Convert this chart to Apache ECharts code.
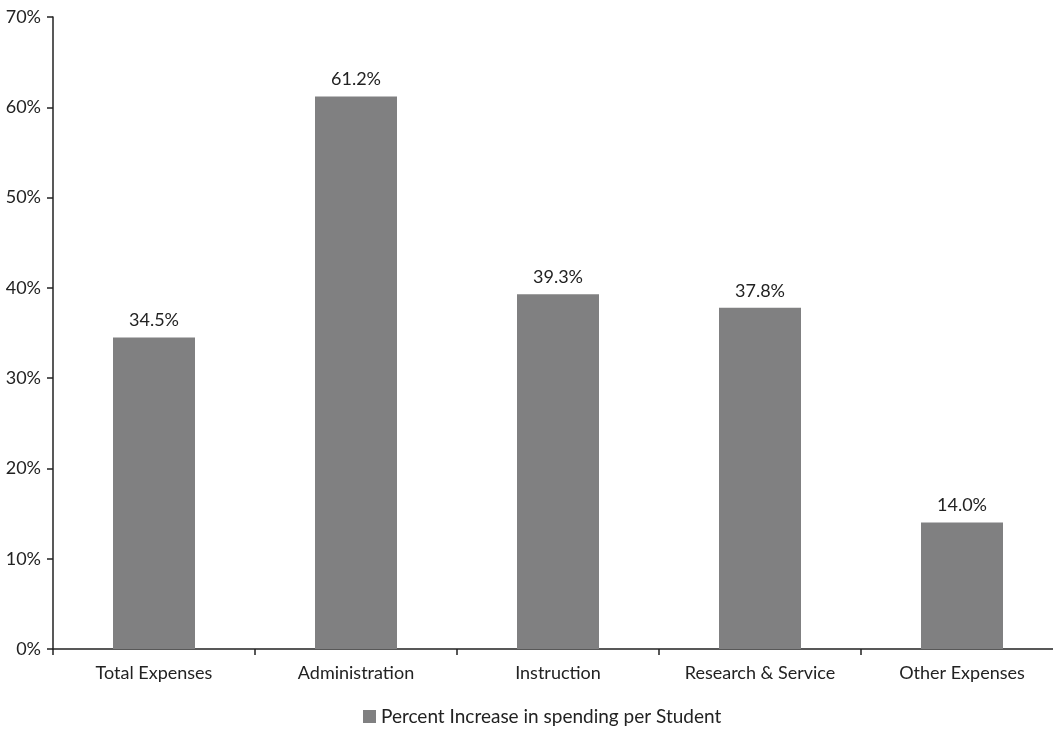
<!DOCTYPE html>
<html><head><meta charset="utf-8">
<script src="https://cdn.jsdelivr.net/npm/echarts@6/dist/echarts.min.js"></script>
<style>html,body{margin:0;padding:0;background:#fff;overflow:hidden}#c{width:1063px;height:730px}</style>
</head><body><div id="c"></div>
<script>
const categories = ['Total Expenses','Administration','Instruction','Research & Service','Other Expenses'];
const values = [34.5, 61.2, 39.3, 37.8, 14.0];
const seriesName = 'Percent Increase in spending per Student';
const font = 'Lato, "Open Sans", sans-serif';
const chart = echarts.init(document.getElementById('c'));
chart.setOption({
  animation: false,
  textStyle: {fontFamily: font},
  grid: {left: 53, top: 17, right: 0, bottom: 81, containLabel: false},
  legend: {
    top: 702, left: 358, itemWidth: 13, itemHeight: 13, icon: 'rect', itemGap: 6,
    textStyle: {fontFamily: font, fontSize: 19, color: '#222'},
    data: [seriesName]
  },
  xAxis: {
    type: 'category', data: categories,
    axisLine: {lineStyle: {color: '#222', width: 1.5}},
    axisTick: {show: true, length: 6, lineStyle: {color: '#222', width: 1.5}},
    axisLabel: {fontFamily: font, fontSize: 18, color: '#222', margin: 15}
  },
  yAxis: {
    type: 'value', min: 0, max: 70, interval: 10,
    axisLine: {show: true, lineStyle: {color: '#222', width: 1.5}},
    axisTick: {show: true, length: 6, lineStyle: {color: '#222', width: 1.5}},
    splitLine: {show: false},
    axisLabel: {fontFamily: font, fontSize: 18, color: '#222', margin: 12, formatter: '{value}%'}
  },
  series: [{
    name: seriesName, type: 'bar', data: values, barWidth: 82,
    itemStyle: {color: '#808081'},
    label: {show: true, position: 'top', distance: 8, fontFamily: font, fontSize: 18, color: '#222',
      formatter: p => p.value.toFixed(1) + '%'}
  }]
});
</script></body></html>
